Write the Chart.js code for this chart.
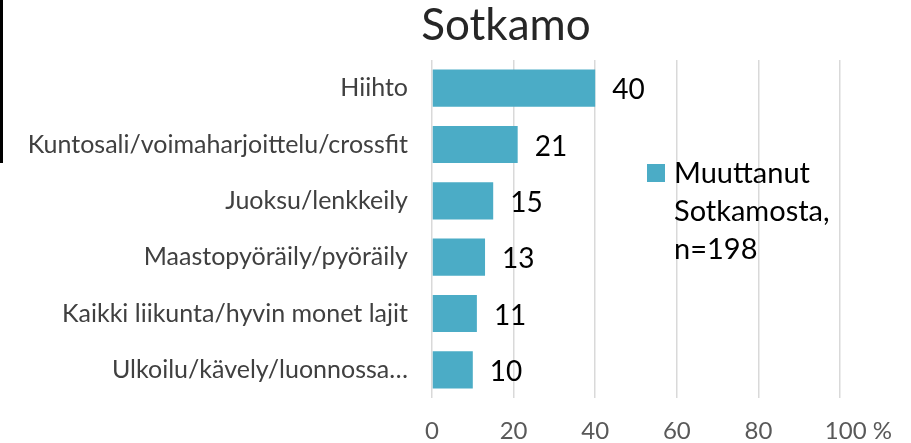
<!DOCTYPE html>
<html>
<head>
<meta charset="utf-8">
<script src="https://cdn.jsdelivr.net/npm/chart.js@4/dist/chart.umd.min.js"></script>
<style>
  html, body { margin: 0; padding: 0; background: #fff; }
  #wrap { position: relative; width: 911px; height: 443px; }
  #edge { position: absolute; left: 0; top: 0; width: 3px; height: 163px; background: #000; }
</style>
</head>
<body>
<div id="wrap">
  <canvas id="myChart" width="911" height="443"></canvas>
  <div id="edge"></div>
</div>
<script>
const categories = [
  'Hiihto',
  'Kuntosali/voimaharjoittelu/crossfit',
  'Juoksu/lenkkeily',
  'Maastopyöräily/pyöräily',
  'Kaikki liikunta/hyvin monet lajit',
  'Ulkoilu/kävely/luonnossa…',
];
const values = [40, 21, 15, 13, 11, 10];
const xTickLabels = ['0', '20', '40', '60', '80', '100 %'];
const seriesName = ['Muuttanut', 'Sotkamosta,', 'n=198'];
const titleText = 'Sotkamo';
const barColor = '#4BACC6';
const font = 'Lato';

// title sits off-centre in the original, so draw it ourselves
const titleDraw = {
  id: 'titleDraw',
  afterDraw(chart) {
    const ctx = chart.ctx;
    ctx.save();
    ctx.font = '44px ' + font;
    ctx.fillStyle = '#262626';
    ctx.textAlign = 'center';
    ctx.textBaseline = 'alphabetic';
    ctx.fillText(titleText, 506, 40);
    ctx.restore();
  },
};

const valueLabels = {
  id: 'valueLabels',
  afterDatasetsDraw(chart) {
    const ctx = chart.ctx;
    const meta = chart.getDatasetMeta(0);
    ctx.save();
    ctx.font = '28px ' + font;
    ctx.fillStyle = '#000';
    ctx.textBaseline = 'middle';
    ctx.textAlign = 'left';
    meta.data.forEach((bar, i) => {
      ctx.fillText(String(values[i]), bar.x + 17, bar.y + 2);
    });
    ctx.restore();
  },
};

const sideLegend = {
  id: 'sideLegend',
  afterDraw(chart) {
    const ctx = chart.ctx;
    const x = 647;
    const y = 164;
    ctx.save();
    ctx.fillStyle = barColor;
    ctx.fillRect(x, y, 18, 18);
    ctx.font = '29px ' + font;
    ctx.fillStyle = '#000';
    ctx.textBaseline = 'middle';
    seriesName.forEach((line, i) => {
      ctx.fillText(line, x + 27, y + 10 + i * 38);
    });
    ctx.restore();
  },
};

const chartData = {
  labels: categories,
  datasets: [
    {
      label: seriesName.join(' '),
      backgroundColor: barColor,
      data: values,
      barPercentage: 0.66,
      categoryPercentage: 1,
    },
  ],
};

const config = {
  type: 'bar',
  data: chartData,
  options: {
    indexAxis: 'y',
    responsive: false,
    animation: false,
    layout: { padding: { left: 0, right: 70, top: 60, bottom: 0 } },
    plugins: {
      legend: { display: false },
      tooltip: { enabled: false },
      title: { display: false },
    },
    scales: {
      x: {
        min: 0,
        max: 100,
        ticks: {
          stepSize: 20,
          color: '#595959',
          font: { family: font, size: 24 },
          padding: 19,
          maxRotation: 0,
          minRotation: 0,
          autoSkip: false,
          // the number part of "100 %" is centred on its gridline
          callback: (v, i) => (i === xTickLabels.length - 1 ? '      ' : '') + xTickLabels[i],
        },
        grid: { color: '#d9d9d9', lineWidth: 1.5, drawTicks: false },
        border: { display: false },
        afterFit(scale) { scale.height = 45; },
      },
      y: {
        ticks: {
          color: '#404040',
          font: { family: font, size: 25 },
          padding: 24,
        },
        grid: { display: false, drawTicks: false },
        border: { display: false },
        afterFit(scale) { scale.width = 432; },
      },
    },
  },
  plugins: [valueLabels, sideLegend, titleDraw],
};

new Chart(document.querySelector('#myChart'), config);
</script>
</body>
</html>
